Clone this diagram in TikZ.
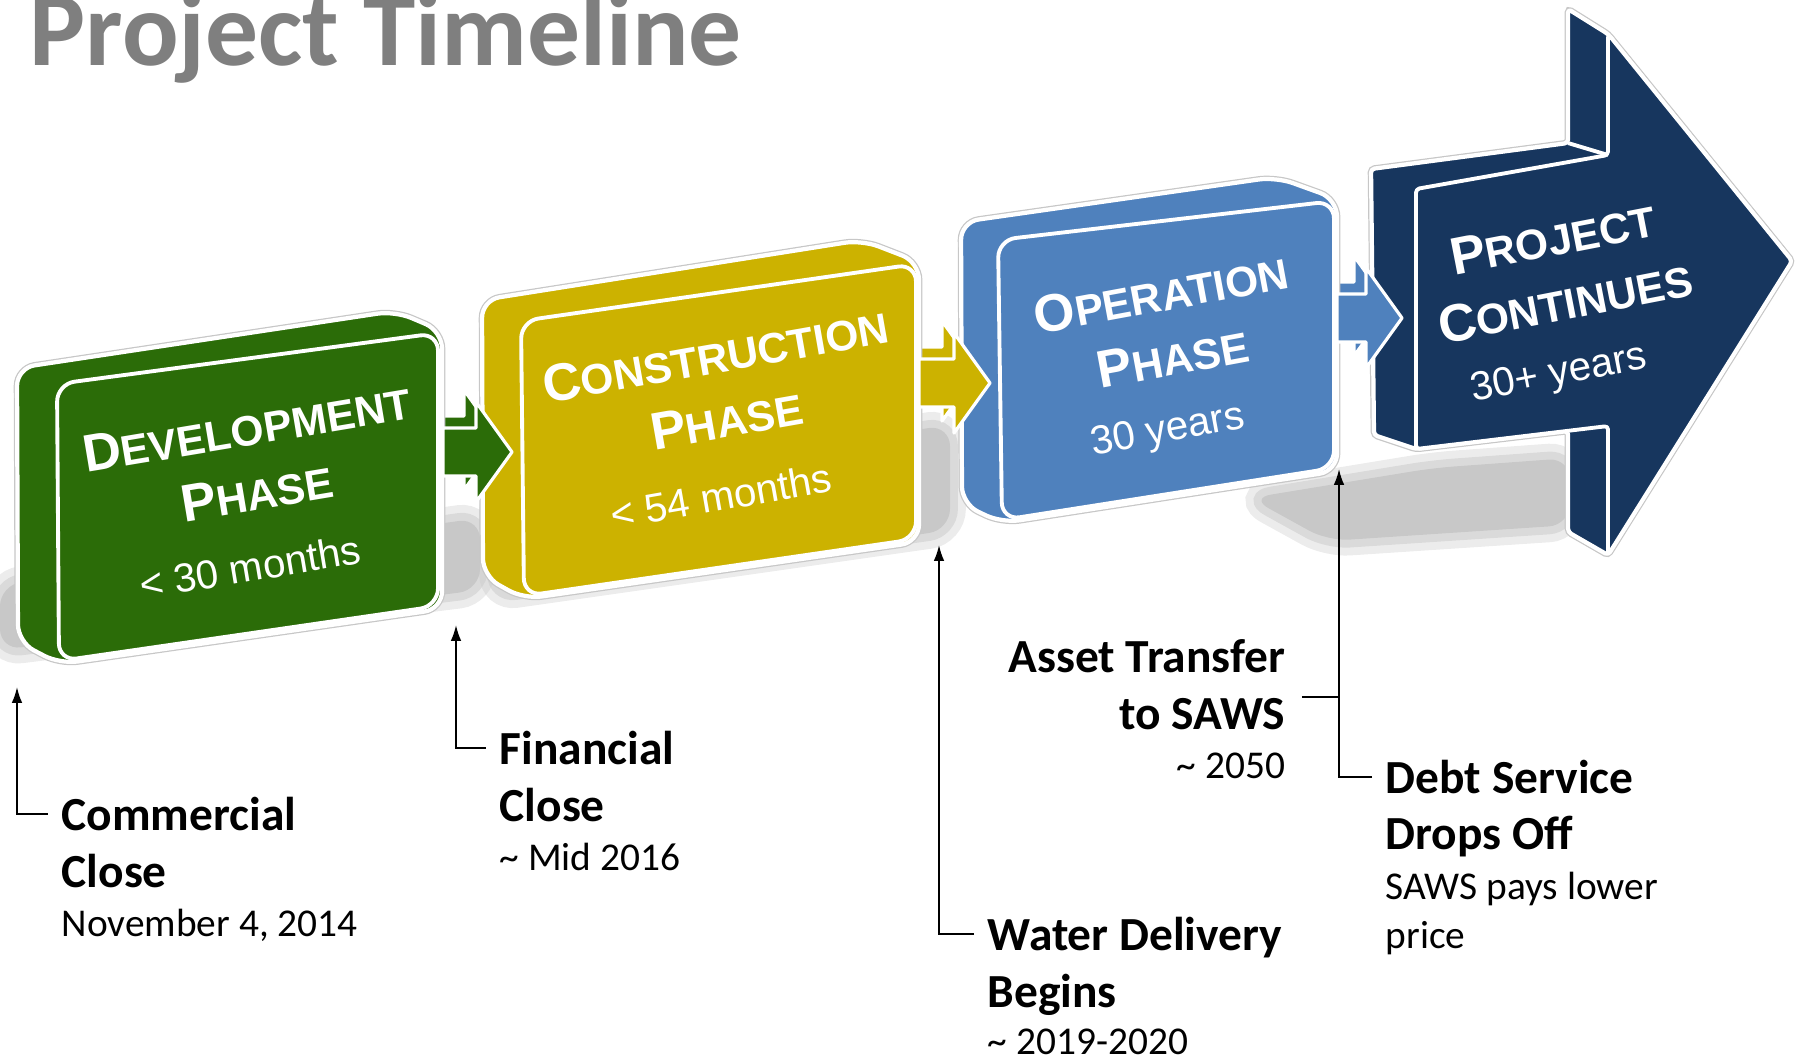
\documentclass[tikz,border=0pt]{standalone}
\usepackage{fontspec}
\setmainfont{Carlito}
\newfontfamily\phasefont{Liberation Sans}
\usetikzlibrary{arrows.meta}
\definecolor{devgreen}{RGB}{43,108,8}
\definecolor{conyellow}{RGB}{204,178,0}
\definecolor{opblue}{RGB}{79,129,189}
\definecolor{contnavy}{RGB}{23,54,94}
\definecolor{titlegray}{RGB}{127,127,127}
\definecolor{shadowgray}{RGB}{200,200,200}
\newcommand\phasecaps[2]{{\fontsize{15}{18.5}\selectfont #1}#2}
\tikzset{
  hull/.style = {preaction = {draw = black!22, line width = 1.9pt}, fill = #1, draw = white, line width = 1.2pt, line join = round},
  face/.style = {fill = #1, draw = white, line width = 1.1pt, line join = round},
  arrowpart/.style = {fill = #1, draw = white, line width = 0.9pt, line join = round},
  shadow/.style = {fill = shadowgray, line join = round, rounded corners = 6pt,
    preaction = {draw = shadowgray, opacity = 0.35, line width = 9pt},
    preaction = {draw = shadowgray, opacity = 0.5, line width = 4.5pt}},
  phasetitle/.style = {text = white, align = center, inner sep = 0,
    font = \phasefont\fontsize{12.1}{18.5}\selectfont\bfseries},
  phasetime/.style = {text = white, inner sep = 0, font = \phasefont\fontsize{11.5}{14}\selectfont},
  milestone/.style = {anchor = base west, inner sep = 0, text height = 9pt, text depth = 0pt,
    font = \fontsize{13.5}{16}\selectfont\bfseries},
  mdate/.style = {anchor = base west, inner sep = 0, font = \fontsize{11.2}{14}\selectfont},
  pointer/.style = {draw = black, line width = 0.5pt, -{Latex[length = 4.5pt, width = 3pt]}},
  guide/.style = {draw = black, line width = 0.5pt}
}
\begin{document}
\begin{tikzpicture}[x = 0.01cm, y = -0.01cm]
\useasboundingbox (0,0) rectangle (1795,1059);
\node[anchor = base west, inner sep = 0, text = titlegray, font = \fontsize{30}{36}\selectfont\bfseries] (title) at (29,65) {Project Timeline};
\path[shadow] (0,585) -- (480,518) -- (480,590) -- (0,650) -- cycle;
\path[shadow] (495,490) -- (950,425) -- (950,530) -- (495,595) -- cycle;
\path[shadow] (1250,498) -- (1433,468) -- (1570,458) -- (1570,525) -- (1328,541) -- cycle;
\foreach \col/\sx/\tx/\ty in {devgreen/443/512/452, conyellow/919/990/383, opblue/1337/1402/318}
  \draw[arrowpart = \col, shift = {(-12,-12)}] (\sx+12,\ty-24) -- (\tx-36,\ty-24) -- (\tx-36,\ty-50) -- (\tx,\ty) -- (\tx-36,\ty+50) -- (\tx-36,\ty+24) -- (\sx+12,\ty+24) -- cycle;
\draw[hull = devgreen, rounded corners = 5pt] (17,368) -- (395,311) -- (442,331) -- (442,609) -- (60,664) -- (18,642) -- cycle;
\draw[face = devgreen, rounded corners = 5pt] (57,384) -- (438,333) -- (438,606) -- (59,661) -- cycle;
\draw[hull = conyellow, rounded corners = 5pt] (482,300) -- (862,240) -- (919,262) -- (919,542) -- (524,599) -- (483,576) -- cycle;
\draw[face = conyellow, rounded corners = 5pt] (521,321) -- (916,264) -- (916,539) -- (524,596) -- cycle;
\draw[hull = opblue, rounded corners = 5pt] (961,222) -- (1276,177) -- (1337,199) -- (1337,471) -- (1002,523) -- (962,504) -- cycle;
\draw[face = opblue, rounded corners = 5pt] (998,240) -- (1334,201) -- (1334,468) -- (1002,520) -- cycle;
\draw[hull = contnavy, rounded corners = 1pt] (1371,169) -- (1568,143) -- (1568,9) -- (1608,34) -- (1792,261) -- (1608,555) -- (1568,532) -- (1568,431) -- (1416,449) -- (1374,435) -- cycle;
\draw[face = contnavy, rounded corners = 1pt] (1416,189) -- (1608,155) -- (1608,34) -- (1792,261) -- (1608,555) -- (1608,426) -- (1416,449) -- cycle;
\draw[white, line width = 1.1pt] (1568,143) -- (1608,155);
\foreach \col/\sx/\tx/\ty in {devgreen/443/512/452, conyellow/919/990/383, opblue/1337/1402/318}
  \draw[arrowpart = \col] (\sx,\ty-24) -- (\tx-36,\ty-24) -- (\tx-36,\ty-50) -- (\tx,\ty) -- (\tx-36,\ty+50) -- (\tx-36,\ty+24) -- (\sx,\ty+24) -- cycle;
\node[phasetitle, rotate = 9.5] (devname) at (252,460) {\phasecaps{D}{EVELOPMENT}\\\phasecaps{P}{HASE}};
\node[phasetime, rotate = 9.5] (devtime) at (250,567) {< 30 months};
\node[phasetitle, rotate = 10] (conname) at (721,387) {\phasecaps{C}{ONSTRUCTION}\\\phasecaps{P}{HASE}};
\node[phasetime, rotate = 10] (contime) at (721,496) {< 54 months};
\node[phasetitle, rotate = 10.5] (opname) at (1167,325) {\phasecaps{O}{PERATION}\\\phasecaps{P}{HASE}};
\node[phasetime, rotate = 10.5] (optime) at (1168,432) {30 years};
\node[phasetitle, rotate = 11] (contname) at (1559,270) {\phasecaps{P}{ROJECT}\\\phasecaps{C}{ONTINUES}};
\node[phasetime, rotate = 11] (conttime) at (1559,375) {30+ years};
\node[milestone] (comm1) at (61,830) {Commercial};
\node[milestone] (comm2) at (61,887) {Close};
\node[mdate] (comm3) at (61,936) {November 4, 2014};
\node[milestone] (fin1) at (499,764) {Financial};
\node[milestone] (fin2) at (499,821) {Close};
\node[mdate] (fin3) at (499,870) {\textasciitilde{} Mid 2016};
\node[milestone] (wat1) at (987,950) {Water Delivery};
\node[milestone] (wat2) at (987,1007) {Begins};
\node[mdate] (wat3) at (987,1054) {\textasciitilde{} 2019-2020};
\node[milestone, anchor = base east] (asset1) at (1286,672) {Asset Transfer};
\node[milestone, anchor = base east] (asset2) at (1286,729) {to SAWS};
\node[mdate, anchor = base east] (asset3) at (1286,778) {\textasciitilde{} 2050};
\node[milestone] (debt1) at (1385,793) {Debt Service};
\node[milestone] (debt2) at (1385,849) {Drops Off};
\node[mdate] (debt3) at (1385,899) {SAWS pays lower};
\node[mdate] (debt4) at (1385,948) {price};
\coordinate (commtip) at (17,687);
\coordinate (fintip) at (456,625);
\coordinate (wattip) at (939,545);
\coordinate (debttip) at (1339,469);
\draw[pointer] ([xshift = -3.7pt]comm1.west) -| (commtip);
\draw[pointer] ([xshift = -3.7pt]fin1.west) -| (fintip);
\draw[pointer] ([xshift = -3.7pt]wat1.west) -| (wattip);
\draw[pointer] ([xshift = -3.7pt]debt1.west) -| (debttip);
\draw[guide] ([xshift = 4.5pt]asset2.north east) -- (asset2.north east -| debttip);
\end{tikzpicture}
\end{document}
